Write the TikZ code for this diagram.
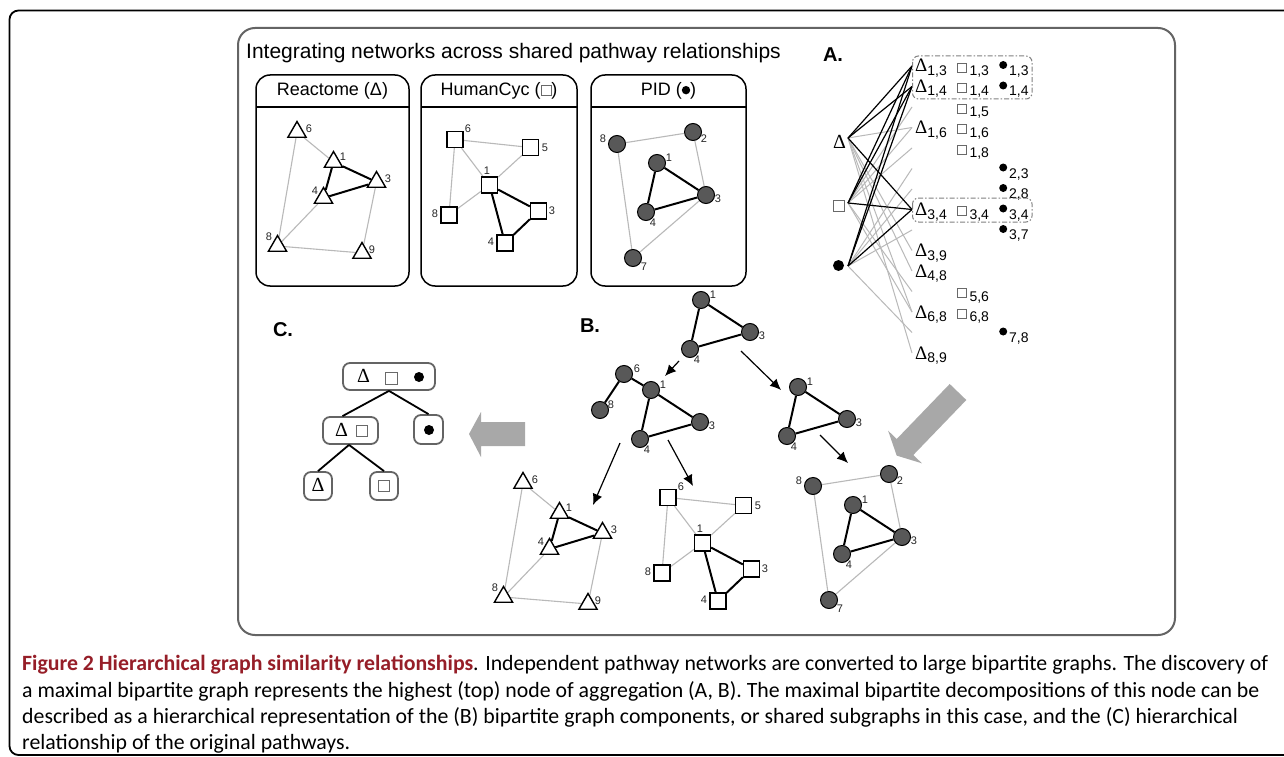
\documentclass[tikz,border=0pt]{standalone}
\usepackage{fontspec}
\setmainfont{Liberation Sans}
\newfontfamily\serf{Liberation Serif}
\newfontfamily\capfont{Carlito}
\usetikzlibrary{shapes.geometric,arrows.meta}
\pgfdeclarelayer{bg}
\pgfdeclarelayer{paper}
\pgfsetlayers{paper,bg,main}
\definecolor{edgegray}{RGB}{185,185,185}
\definecolor{nodegray}{RGB}{88,88,88}
\definecolor{framegray}{RGB}{100,100,100}
\definecolor{arrowgray}{RGB}{168,168,168}
\definecolor{capred}{RGB}{150,30,40}
\definecolor{sqgray}{RGB}{105,105,105}
\tikzset{
  tri/.style={regular polygon, regular polygon sides=3, draw=black, line width=1.4pt, fill=white, minimum size=21pt, inner sep=0pt},
  sqn/.style={rectangle, draw=black, line width=1.3pt, fill=white, minimum size=16pt, inner sep=0pt},
  cir/.style={circle, draw=black, line width=1pt, fill=nodegray, minimum size=17pt, inner sep=0pt},
  ge/.style={draw=edgegray, line width=1.1pt},
  be/.style={draw=black, line width=2pt},
  lab/.style={font=\fontsize{11}{11}\selectfont, text=black!85, inner sep=0pt},
  panelbox/.style={draw=black, line width=1.5pt, rounded corners=14pt},
  ptitle/.style={font=\fontsize{18}{18}\selectfont, inner sep=0pt},
  bil/.style={anchor=base west, inner sep=0pt},
  dashbox/.style={draw=gray, line width=1pt, rounded corners=6pt, dash pattern=on 5pt off 2pt on 1.5pt off 2pt},
  bline/.style={draw=black, line width=1.2pt},
  gline/.style={draw=edgegray, line width=1pt},
  cbox/.style={draw=framegray, line width=1.8pt, rounded corners=7pt, inner sep=0pt, fill=white},
  tline/.style={draw=black, line width=1.8pt},
  barrow/.style={draw=black, line width=1.2pt, -{Latex[length=11pt,width=10pt]}},
  garrow/.style={fill=arrowgray, draw=none},
  plabel/.style={font=\bfseries\fontsize{20}{20}\selectfont, inner sep=0pt},
  captext/.style={anchor=base west, inner sep=0pt, font=\capfont\fontsize{21.8}{21.8}\selectfont},
  deltasym/.style={inner sep=0pt, font=\serf\fontsize{20}{20}\selectfont},
  sqsym/.style={rectangle, draw=sqgray, line width=1pt, fill=white, inner sep=0pt},
  bulsym/.style={circle, fill=black, inner sep=0pt},
}
\newcommand\sqglyph[1]{\tikz[baseline=0pt]\draw[sqgray,line width=0.8pt] (0pt,0pt) rectangle (#1,#1);}
\newcommand\bulglyph[2]{\tikz[baseline=#2]\fill[black] (0pt,0pt) circle (#1);}
\newcommand\subtxt[1]{\raisebox{-3.5pt}{\fontsize{14}{14}\selectfont #1}}
\newcommand\dlab[1]{{\serf\fontsize{19}{19}\selectfont Δ}\subtxt{#1}}
\newcommand\slab[1]{\sqglyph{9pt}\hspace{2.5pt}\subtxt{#1}}
\newcommand\blab[1]{\bulglyph{4pt}{-7pt}\hspace{2pt}\subtxt{#1}}
% Reactome graph
\newcommand\reactomeG[3]{%
 \begin{scope}[shift={(#2,#3)}]
 \node[tri] (#1r6) at (297,132) {};
 \node[tri] (#1r1) at (333.5,162) {};
 \node[tri] (#1r3) at (376.5,182) {};
 \node[tri] (#1r4) at (323.5,198) {};
 \node[tri] (#1r8) at (277.5,246) {};
 \node[tri] (#1r9) at (362,253) {};
 \node[lab] (#1l6) at (309,129) {6};
 \node[lab] (#1l1) at (343,157) {1};
 \node[lab] (#1l3) at (388,179) {3};
 \node[lab] (#1l4) at (315,191) {4};
 \node[lab] (#1l8) at (269,237) {8};
 \node[lab] (#1l9) at (372,250) {9};
 \begin{pgfonlayer}{bg}
 \draw[ge] (#1r6)--(#1r1) (#1r6)--(#1r8) (#1r8)--(#1r4) (#1r8)--(#1r9) (#1r9)--(#1r3);
 \draw[be] (#1r1)--(#1r3) (#1r1)--(#1r4) (#1r4)--(#1r3);
 \end{pgfonlayer}
 \end{scope}}
% HumanCyc graph
\newcommand\humancycG[3]{%
 \begin{scope}[shift={(#2,#3)}]
 \node[sqn] (#1h6) at (455,139.5) {};
 \node[sqn] (#1h5) at (530.5,147.5) {};
 \node[sqn] (#1h1) at (489.5,185) {};
 \node[sqn] (#1h3) at (538.5,211) {};
 \node[sqn] (#1h8) at (449,215) {};
 \node[sqn] (#1h4) at (505,243) {};
 \node[lab] (#1l6) at (468,129) {6};
 \node[lab] (#1l5) at (545,148) {5};
 \node[lab] (#1l1) at (487,171) {1};
 \node[lab] (#1l3) at (552,211) {3};
 \node[lab] (#1l8) at (435,214) {8};
 \node[lab] (#1l4) at (491,242) {4};
 \begin{pgfonlayer}{bg}
 \draw[ge] (#1h6)--(#1h5) (#1h6)--(#1h1) (#1h6)--(#1h8) (#1h5)--(#1h1) (#1h1)--(#1h8);
 \draw[be] (#1h1)--(#1h3) (#1h1)--(#1h4) (#1h3)--(#1h4);
 \end{pgfonlayer}
 \end{scope}}
% PID graph
\newcommand\pidG[3]{%
 \begin{scope}[shift={(#2,#3)}]
 \node[cir] (#1p8) at (617,144) {};
 \node[cir] (#1p2) at (693,132) {};
 \node[cir] (#1p1) at (657,163) {};
 \node[cir] (#1p3) at (706,195) {};
 \node[cir] (#1p4) at (646,212) {};
 \node[cir] (#1p7) at (633,258) {};
 \node[lab] (#1l8) at (603,139) {8};
 \node[lab] (#1l2) at (704,139) {2};
 \node[lab] (#1l1) at (669,158) {1};
 \node[lab] (#1l3) at (718,199) {3};
 \node[lab] (#1l4) at (653,223) {4};
 \node[lab] (#1l7) at (644,267) {7};
 \begin{pgfonlayer}{bg}
 \draw[ge] (#1p8)--(#1p2) (#1p2)--(#1p3) (#1p8)--(#1p7) (#1p7)--(#1p3);
 \draw[be] (#1p1)--(#1p3) (#1p1)--(#1p4) (#1p4)--(#1p3);
 \end{pgfonlayer}
 \end{scope}}
% shared triangle 1-3-4
\newcommand\triG[3]{%
 \begin{scope}[shift={(#2,#3)}]
 \node[cir] (#1p1) at (657,163) {};
 \node[cir] (#1p3) at (706,195) {};
 \node[cir] (#1p4) at (646,212) {};
 \node[lab] (#1l1) at (669,158) {1};
 \node[lab] (#1l3) at (718,199) {3};
 \node[lab] (#1l4) at (653,223) {4};
 \begin{pgfonlayer}{bg}
 \draw[be] (#1p1)--(#1p3) (#1p1)--(#1p4) (#1p4)--(#1p3);
 \end{pgfonlayer}
 \end{scope}}
\begin{document}
\begin{tikzpicture}[x=1pt,y=-1pt]
\useasboundingbox (0,0) rectangle (1284,757);
\clip (0,0) rectangle (1284,757);
\begin{pgfonlayer}{paper}
\fill[white] (0,0) rectangle (1284,757);
\end{pgfonlayer}
% outer frame and inner panel
\draw[line width=1.8pt, rounded corners=9pt] (9.5,10.5) rectangle (1330,755);
\draw[draw=framegray, line width=2pt, rounded corners=17pt] (238,28) rectangle (1175,635);
\node[anchor=base west, inner sep=0pt, font=\fontsize{21}{21}\selectfont] (title) at (246,59) {Integrating networks across shared pathway relationships};
% three pathway panels
\draw[panelbox] (256,75) rectangle (409,286);
\draw[line width=1.5pt] (256,107) -- (409,107);
\node[ptitle] (tR) at (332.5,91) {Reactome (Δ)};
\draw[panelbox] (421,75) rectangle (577,286);
\draw[line width=1.5pt] (421,107) -- (577,107);
\node[ptitle] (tH) at (499,91) {HumanCyc (\sqglyph{10pt})};
\draw[panelbox] (591,75) rectangle (746,286);
\draw[line width=1.5pt] (591,107) -- (746,107);
\node[ptitle] (tP) at (668.5,91) {PID (\bulglyph{4.2pt}{-5.5pt})};
\reactomeG{A}{0}{0}
\humancycG{B}{0}{0}
\pidG{C}{0}{0}
% panel letters
\node[plabel] (labA) at (833,55) {A.};
\node[plabel] (labB) at (590,326) {B.};
\node[plabel] (labC) at (283,330) {C.};
% bipartite graph
\node[deltasym] (LD) at (839.5,141.5) {Δ};
\node[sqsym, minimum size=11pt] (LS) at (838.5,205.5) {};
\node[bulsym, minimum size=11pt] (LC) at (838.5,265.5) {};
\coordinate (sD) at (848,138);
\coordinate (sS) at (848,203);
\coordinate (sC) at (848,266);
\foreach \i in {0,...,14}{\coordinate (row\i) at (912,{66+20.5*\i});}
\foreach \i in {3,9,10,12,14}{\draw[gline] (sD)--(row\i);}
\foreach \i in {2,3,4,11,12}{\draw[gline] (sS)--(row\i);}
\foreach \i in {5,6,8,13}{\draw[gline] (sC)--(row\i);}
\foreach \s in {sD,sS,sC}{\foreach \i in {0,1,7}{\draw[bline] (\s)--(row\i);}}
\foreach \i/\t in {0/{1,3},1/{1,4},3/{1,6},7/{3,4},9/{3,9},10/{4,8},12/{6,8},14/{8,9}}{
  \node[bil] (dl\i) at (915,{72+20.5*\i}) {\dlab{\t}};}
\foreach \i/\t in {0/{1,3},1/{1,4},2/{1,5},3/{1,6},4/{1,8},7/{3,4},11/{5,6},12/{6,8}}{
  \node[bil] (sl\i) at (957,{72+20.5*\i}) {\slab{\t}};}
\foreach \i/\t in {0/{1,3},1/{1,4},5/{2,3},6/{2,8},7/{3,4},8/{3,7},13/{7,8}}{
  \node[bil] (bl\i) at (999,{72+20.5*\i}) {\blab{\t}};}
\draw[dashbox] (912.5,56) rectangle (1032,99);
\draw[dashbox] (912.5,198) rectangle (1032,222);
% B: decomposition tree
\triG{T}{44}{137}
\triG{L}{-6}{227}
\begin{scope}[shift={(-6,227)}]
 \node[cir] (Lp6) at (630,147) {};
 \node[cir] (Lp8) at (606,183) {};
 \node[lab] (Ll6) at (643,142) {6};
 \node[lab] (Ll8) at (617,178) {8};
 \begin{pgfonlayer}{bg}
 \draw[be] (Lp8)--(Lp6) (Lp6)--(Lp1);
 \end{pgfonlayer}
\end{scope}
\triG{M}{141}{224}
\reactomeG{D}{226}{351}
\humancycG{E}{213}{358}
\pidG{F}{196}{342}
\coordinate (a1s) at (679,361); \coordinate (a1e) at (665,376);
\coordinate (a2s) at (741,351); \coordinate (a2e) at (781,390);
\coordinate (a3s) at (620,443); \coordinate (a3e) at (593,505);
\coordinate (a4s) at (668,440); \coordinate (a4e) at (693,486);
\coordinate (a5s) at (820,435); \coordinate (a5e) at (848,463);
\draw[barrow] (a1s) -- (a1e);
\draw[barrow] (a2s) -- (a2e);
\draw[barrow] (a3s) -- (a3e);
\draw[barrow] (a4s) -- (a4e);
\draw[barrow] (a5s) -- (a5e);
% big gray arrows
\fill[garrow] (896.7,455.6) -- (888.1,430.7) -- (896.7,439) -- (949.7,384) -- (966.3,400) -- (913.3,455) -- (921.9,463.3) -- cycle;
\fill[garrow] (469,434) -- (481,412) -- (481,422) -- (525,422) -- (525,446) -- (481,446) -- (481,457) -- cycle;
% C: hierarchy
\node[cbox, minimum width=92pt, minimum height=27pt] (ctop) at (389,376.5) {};
\node[cbox, minimum width=55pt, minimum height=27pt] (cmidL) at (350.5,430.5) {};
\node[cbox, minimum width=29pt, minimum height=29pt] (cmidR) at (428.5,429.5) {};
\node[cbox, minimum width=28pt, minimum height=28pt] (cbotL) at (318,486) {};
\node[cbox, minimum width=28pt, minimum height=28pt] (cbotR) at (384,486) {};
\node[deltasym] (ctD) at (363.5,375.5) {Δ};
\node[sqsym, minimum size=12pt] (ctS) at (391,378.5) {};
\node[bulsym, minimum size=10pt] (ctC) at (419,377) {};
\node[deltasym] (cmD) at (341.5,429.5) {Δ};
\node[sqsym, minimum size=11pt] (cmS) at (361.5,430.5) {};
\node[bulsym, minimum size=10pt] (crC) at (429,430) {};
\node[deltasym] (cbD) at (318,485) {Δ};
\node[sqsym, minimum size=11pt] (cbS) at (384,486) {};
\draw[tline] (ctop.south) -- ([xshift=-8pt]cmidL.north);
\draw[tline] (ctop.south) -- (cmidR.north);
\draw[tline] ([xshift=-1.5pt]cmidL.south) -- (cbotL.north);
\draw[tline] ([xshift=-1.5pt]cmidL.south) -- (cbotR.north);
% caption
\node[captext] (cap1) at (22,670) {{\bfseries\color{capred}Figure 2 Hierarchical graph similarity relationships}. Independent pathway networks are converted to large bipartite graphs. The discovery of};
\node[captext] (cap2) at (22,697) {a maximal bipartite graph represents the highest (top) node of aggregation (A, B). The maximal bipartite decompositions of this node can be};
\node[captext] (cap3) at (22,723) {described as a hierarchical representation of the (B) bipartite graph components, or shared subgraphs in this case, and the (C) hierarchical};
\node[captext] (cap4) at (22,749) {relationship of the original pathways.};
\end{tikzpicture}
\end{document}
